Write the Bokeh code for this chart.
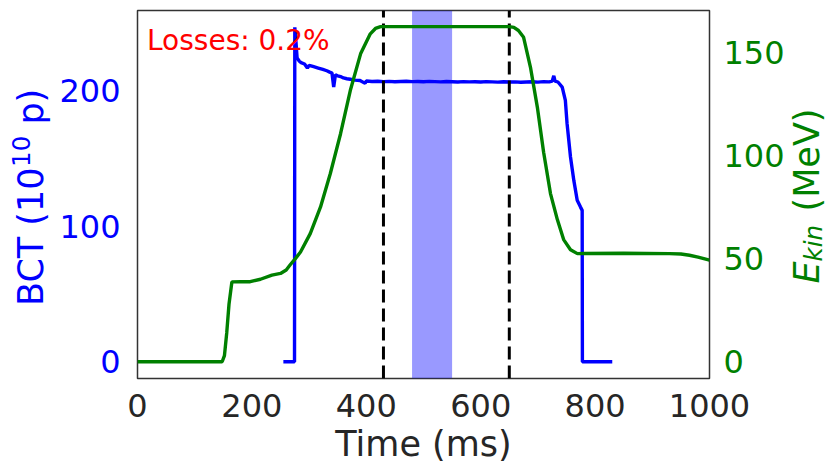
import math

from bokeh.embed import file_html
from bokeh.layouts import row
from bokeh.models import BoxAnnotation, FixedTicker, Label, LinearAxis, Range1d
from bokeh.plotting import figure
from bokeh.resources import INLINE

# ---- beam current transformer (BCT), in 1e10 protons ----
bct_time = [255, 274.5, 275, 277, 279, 283, 286, 292, 297, 300, 308, 316, 324,
            331, 336, 340, 343, 346, 350, 355, 360, 366, 372, 380, 389, 398,
            400, 410, 420, 430, 440, 450, 460, 470, 480, 490, 500, 510, 520,
            530, 540, 550, 560, 570, 580, 590, 600, 610, 620, 630, 640, 650,
            660, 670, 680, 690, 700, 710, 720, 725, 727.8, 730, 735, 742.5,
            748, 751, 757, 762.8, 768.7, 774.5, 777.4, 777.8, 830]
bct_value = [0, 0, 246.5, 236, 224, 221.5, 220.5, 219.5, 216.5, 218.5, 217.5,
             216.5, 215.5, 214.5, 213.5, 212.8, 202.5, 211.5, 210.8, 210.2,
             209.2, 208.6, 208.2, 207.6, 207.3, 205.2, 206.9, 206.6, 206.8,
             206.5, 206.7, 206.4, 206.6, 206.8, 206.5, 206.6, 206.4, 206.7,
             206.5, 206.3, 206.6, 206.4, 206.2, 206.5, 206.3, 206.4, 206.2,
             206.5, 206.3, 206.1, 206.4, 206.2, 206.3, 206.0, 206.2, 206.4,
             206.1, 206.5, 206.3, 206.8, 210.8, 206.9, 206.2, 202.5, 192.7,
             175.5, 150.9, 133.7, 119.0, 114.0, 111.6, 0, 0]

# ---- kinetic energy programme, in MeV ----
ekin_time = [0, 148, 152, 156, 160, 165, 180, 197, 215, 235, 250, 260, 267,
             276, 285, 302, 320, 337, 355, 372, 390, 407, 416, 425, 440, 500,
             600, 650, 658, 666, 675, 687, 699, 710, 722, 734, 745, 757, 769,
             780, 850, 930, 950, 965, 980, 1000]
ekin_value = [0, 0, 3, 14, 28, 38.7, 38.8, 38.8, 40, 42, 42.8, 44.5, 47, 50,
              53.2, 62.1, 75.0, 91.1, 110.5, 131.4, 149.2, 158.9, 161.5,
              162.4, 162.4, 162.4, 162.4, 162.4, 162.0, 160.5, 157.2, 142.7,
              123.4, 101.5, 81.5, 68.9, 59.2, 54.3, 52.4, 52.5, 52.6, 52.4,
              52.2, 51.6, 50.7, 49.3]

# ---- flat-top markers and integration window ----
cycle_marks = [430, 650]
window_start = 480
window_end = 550
losses_text = "Losses: 0.2%"

x_ticks = [0, 200, 400, 600, 800, 1000]
bct_ticks = [0, 100, 200]
ekin_ticks = [0, 50, 100, 150]

# page geometry (pixels)
W, H = 827, 466
LEFT_STRIP = 55          # room for the rotated BCT title
RIGHT_STRIP_X = 787      # where the rotated energy title begins
FRAME_L, FRAME_R, FRAME_T, FRAME_B = 137, 709, 10, 378

X_START, X_END = 0, 1000
BCT_START, BCT_END = -12.3, 258.9
EK_START, EK_END = -8.1, 170.2

FONT = "DejaVu Sans"
DARK = "#262626"
LINE_W = 3.4
MID = 0.36   # distance from baseline to the middle of the capitals, in em


def px_y(py):
    """Vertical page pixel -> BCT value."""
    return BCT_END - (py - FRAME_T) * (BCT_END - BCT_START) / (FRAME_B - FRAME_T)


main_w = RIGHT_STRIP_X - LEFT_STRIP
p = figure(width=main_w, height=H, output_backend="svg", toolbar_location=None,
           x_range=Range1d(X_START, X_END), y_range=Range1d(BCT_START, BCT_END),
           min_border_left=FRAME_L - LEFT_STRIP,
           min_border_right=RIGHT_STRIP_X - FRAME_R,
           min_border_top=FRAME_T, min_border_bottom=H - FRAME_B)
p.extra_y_ranges = {"ekin": Range1d(EK_START, EK_END)}
p.grid.visible = False
p.background_fill_color = "white"
p.border_fill_color = "white"
p.outline_line_color = "#333333"
p.outline_line_width = 1.5

right_axis = LinearAxis(y_range_name="ekin")
p.add_layout(right_axis, "right")


def style_axis(ax, ticks, color, standoff):
    ax.ticker = FixedTicker(ticks=ticks)
    ax.axis_line_color = None
    ax.major_tick_line_color = None
    ax.minor_tick_line_color = None
    ax.major_tick_out = 0
    ax.major_tick_in = 0
    ax.major_label_text_font = FONT
    ax.major_label_text_font_size = "32px"
    ax.major_label_text_color = color
    ax.major_label_standoff = standoff


style_axis(p.xaxis[0], x_ticks, DARK, 15)
style_axis(p.yaxis[0], bct_ticks, "blue", 17)
style_axis(right_axis, ekin_ticks, "green", 14)

xax = p.xaxis[0]
xax.axis_label = "Time (ms)"
xax.axis_label_text_font = FONT
xax.axis_label_text_font_size = "35px"
xax.axis_label_text_font_style = "normal"
xax.axis_label_text_color = DARK
xax.axis_label_standoff = 4

# shaded integration window
p.add_layout(BoxAnnotation(left=window_start, right=window_end,
                           fill_color="blue", fill_alpha=0.4,
                           line_color=None, level="underlay"))

# beam intensity
p.line(bct_time, bct_value, line_color="blue", line_width=LINE_W)

# flat-top markers
p.segment(x0=cycle_marks, x1=cycle_marks,
          y0=[BCT_START] * len(cycle_marks), y1=[BCT_END] * len(cycle_marks),
          line_color="black", line_width=3, line_dash="13 6")

# energy ramp on the secondary axis
p.line(ekin_time, ekin_value, line_color="green", line_width=LINE_W,
       y_range_name="ekin")

p.add_layout(Label(x=16.6, y=px_y(50 - MID * 28), text=losses_text,
                   text_color="red", text_font=FONT, text_font_size="28px",
                   text_baseline="middle", text_align="left"))


def strip(x0, x1):
    """A bare panel whose data coordinates are page pixels (frame rows)."""
    s = figure(width=x1 - x0, height=H, output_backend="svg",
               toolbar_location=None, x_range=Range1d(x0, x1),
               y_range=Range1d(FRAME_B, FRAME_T), x_axis_location=None,
               y_axis_location=None, min_border=0)
    s.grid.visible = False
    s.outline_line_color = None
    s.background_fill_color = "white"
    s.border_fill_color = "white"
    return s


up = math.pi / 2


def vlabel(s, baseline_px, start_py, text, color, size, style="normal"):
    """Text reading bottom-to-top, its baseline at baseline_px."""
    s.add_layout(Label(x=baseline_px - MID * size, y=start_py, text=text,
                       angle=up, text_color=color, text_font=FONT,
                       text_font_size=f"{size}px", text_font_style=style,
                       text_align="left", text_baseline="middle"))


# left title: BCT (10^10 p)
left = strip(0, LEFT_STRIP)
vlabel(left, 43, 305.5, "BCT (10", "blue", 35)
vlabel(left, 29, 166.4, "10", "blue", 24.5)
vlabel(left, 43, 124.1, "p)", "blue", 35)

# right title: E_kin (MeV)
right = strip(RIGHT_STRIP_X, W)
vlabel(right, 819, 283, "E", "green", 35, "italic")
vlabel(right, 821.5, 260.9, "kin", "green", 24.5, "italic")
vlabel(right, 819.5, 211, "(MeV)", "green", 35)

layout = row(left, p, right, spacing=0)
open("out.html", "w").write(file_html(layout, INLINE))
